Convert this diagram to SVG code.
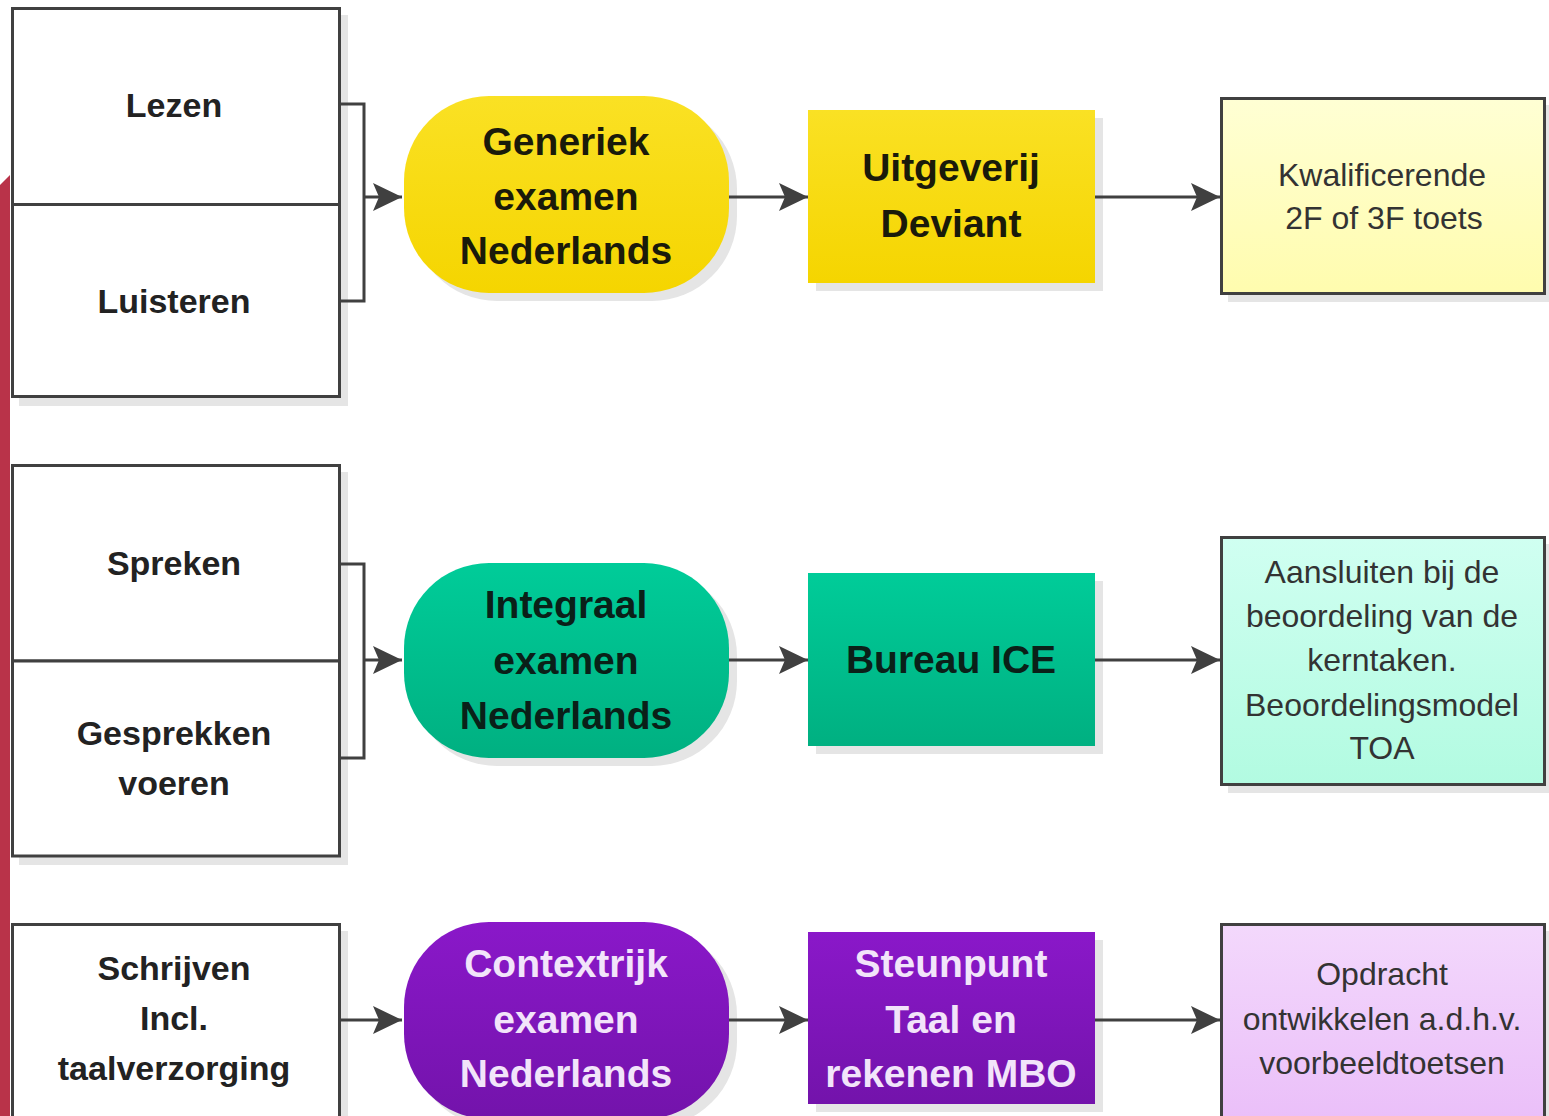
<svg xmlns="http://www.w3.org/2000/svg" width="1549" height="1116" viewBox="0 0 1549 1116">
<defs>
<linearGradient id="gY" x1="0" y1="0" x2="0" y2="1"><stop offset="0" stop-color="#FAE124"/><stop offset="1" stop-color="#F5D500"/></linearGradient>
<linearGradient id="gG" x1="0" y1="0" x2="0" y2="1"><stop offset="0" stop-color="#00CC99"/><stop offset="1" stop-color="#00B081"/></linearGradient>
<linearGradient id="gP" x1="0" y1="0" x2="0" y2="1"><stop offset="0" stop-color="#8A18C9"/><stop offset="1" stop-color="#7313AB"/></linearGradient>
<linearGradient id="gY2" x1="0" y1="0" x2="0" y2="1"><stop offset="0" stop-color="#FFFFD4"/><stop offset="1" stop-color="#FFFCAE"/></linearGradient>
<linearGradient id="gG2" x1="0" y1="0" x2="0" y2="1"><stop offset="0" stop-color="#D0FFF1"/><stop offset="1" stop-color="#B2FBE1"/></linearGradient>
<linearGradient id="gP2" x1="0" y1="0" x2="0" y2="1"><stop offset="0" stop-color="#F3D8FC"/><stop offset="1" stop-color="#E8B8F8"/></linearGradient>
<marker id="arr" markerUnits="userSpaceOnUse" markerWidth="32" markerHeight="30" viewBox="0 0 32 30" refX="30" refY="15" orient="auto">
<path d="M1,1 L30,15 L1,29 L7,15 Z" fill="#404040"/>
</marker>
</defs>
<style>
.box{fill:#fff;stroke:#404040;stroke-width:3}
.res{stroke:#404040;stroke-width:3}
.sh{fill:#E5E5E5}
.lbl{font-family:"Liberation Sans",Arial,sans-serif;font-weight:bold;font-size:34px;fill:#222;text-anchor:middle}
.big{font-family:"Liberation Sans",Arial,sans-serif;font-weight:bold;font-size:39px;text-anchor:middle}
.txt{font-family:"Liberation Sans",Arial,sans-serif;font-size:32px;fill:#333;text-anchor:middle}
.con{fill:none;stroke:#404040;stroke-width:3}
</style>
<rect width="1549" height="1116" fill="#fff"/>
<polygon id="redbar" points="0,185 10,175 10,1116 0,1116" fill="#B93349"/>

<g id="shadows">
<rect class="sh" x="19" y="15" width="329" height="391"/>
<rect class="sh" x="19" y="472" width="329" height="393"/>
<rect class="sh" x="19" y="931" width="329" height="200"/>
<rect class="sh" x="412" y="104" width="325" height="197" rx="85"/>
<rect class="sh" x="412" y="571" width="325" height="195" rx="85"/>
<rect class="sh" x="412" y="930" width="325" height="197" rx="85"/>
<rect class="sh" x="816" y="118" width="287" height="173"/>
<rect class="sh" x="816" y="581" width="287" height="173"/>
<rect class="sh" x="816" y="940" width="287" height="172"/>
<rect class="sh" x="1228" y="105" width="325" height="197"/>
<rect class="sh" x="1228" y="544" width="325" height="249"/>
<rect class="sh" x="1228" y="931" width="325" height="250"/>
</g>

<g id="connectors">
<path class="con" d="M340,104 H364 V301 H340"/>
<path class="con" d="M364,197 H402" marker-end="url(#arr)"/>
<path class="con" d="M729,197 H808" marker-end="url(#arr)"/>
<path class="con" d="M1095,197 H1220" marker-end="url(#arr)"/>
<path class="con" d="M340,564 H364 V758 H340"/>
<path class="con" d="M364,660 H402" marker-end="url(#arr)"/>
<path class="con" d="M729,660 H808" marker-end="url(#arr)"/>
<path class="con" d="M1095,660 H1220" marker-end="url(#arr)"/>
<path class="con" d="M340,1020 H402" marker-end="url(#arr)"/>
<path class="con" d="M729,1020 H808" marker-end="url(#arr)"/>
<path class="con" d="M1095,1020 H1220" marker-end="url(#arr)"/>
</g>

<g id="lezen"><rect class="box" x="12.5" y="8.5" width="327" height="196"/><text class="lbl" x="174" y="117">Lezen</text></g>
<g id="luisteren"><rect class="box" x="12.5" y="204.5" width="327" height="192"/><text class="lbl" x="174" y="313">Luisteren</text></g>
<g id="spreken"><rect class="box" x="12.5" y="465.5" width="327" height="195.5"/><text class="lbl" x="174" y="575">Spreken</text></g>
<g id="gesprekken"><rect class="box" x="12.5" y="661" width="327" height="195"/><text class="lbl" x="174" y="745">Gesprekken</text><text class="lbl" x="174" y="795">voeren</text></g>
<g id="schrijven"><rect class="box" x="12.5" y="924.5" width="327" height="260"/><text class="lbl" x="174" y="980">Schrijven</text><text class="lbl" x="174" y="1030">Incl.</text><text class="lbl" x="174" y="1080">taalverzorging</text></g>

<g id="generiek"><rect x="404" y="96" width="325" height="197" rx="85" fill="url(#gY)"/><text class="big" fill="#1A1A0A" x="566" y="155">Generiek</text><text class="big" fill="#1A1A0A" x="566" y="210">examen</text><text class="big" fill="#1A1A0A" x="566" y="264">Nederlands</text></g>
<g id="integraal"><rect x="404" y="563" width="325" height="195" rx="85" fill="url(#gG)"/><text class="big" fill="#0A2018" x="566" y="618">Integraal</text><text class="big" fill="#0A2018" x="566" y="674">examen</text><text class="big" fill="#0A2018" x="566" y="729">Nederlands</text></g>
<g id="contextrijk"><rect x="404" y="922" width="325" height="197" rx="85" fill="url(#gP)"/><text class="big" fill="#F2E4FA" x="566" y="977">Contextrijk</text><text class="big" fill="#F2E4FA" x="566" y="1033">examen</text><text class="big" fill="#F2E4FA" x="566" y="1087">Nederlands</text></g>

<g id="uitgeverij"><rect x="808" y="110" width="287" height="173" fill="url(#gY)"/><text class="big" fill="#1A1A0A" x="951" y="181">Uitgeverij</text><text class="big" fill="#1A1A0A" x="951" y="237">Deviant</text></g>
<g id="bureau"><rect x="808" y="573" width="287" height="173" fill="url(#gG)"/><text class="big" fill="#0A2018" x="951" y="673">Bureau ICE</text></g>
<g id="steunpunt"><rect x="808" y="932" width="287" height="172" fill="url(#gP)"/><text class="big" fill="#F2E4FA" x="951" y="977">Steunpunt</text><text class="big" fill="#F2E4FA" x="951" y="1033">Taal en</text><text class="big" fill="#F2E4FA" x="951" y="1087">rekenen MBO</text></g>

<g id="kwalificerende"><rect class="res" x="1221.5" y="98.5" width="323" height="195" fill="url(#gY2)"/><text class="txt" x="1382" y="186">Kwalificerende</text><text class="txt" x="1384" y="229">2F of 3F toets</text></g>
<g id="aansluiten"><rect class="res" x="1221.5" y="537.5" width="323" height="247" fill="url(#gG2)"/><text class="txt" x="1382" y="583">Aansluiten bij de</text><text class="txt" x="1382" y="627">beoordeling van de</text><text class="txt" x="1382" y="671">kerntaken.</text><text class="txt" x="1382" y="716">Beoordelingsmodel</text><text class="txt" x="1382" y="759">TOA</text></g>
<g id="opdracht"><rect class="res" x="1221.5" y="924.5" width="323" height="250" fill="url(#gP2)"/><text class="txt" x="1382" y="985">Opdracht</text><text class="txt" x="1382" y="1030">ontwikkelen a.d.h.v.</text><text class="txt" x="1382" y="1074">voorbeeldtoetsen</text></g>
</svg>
